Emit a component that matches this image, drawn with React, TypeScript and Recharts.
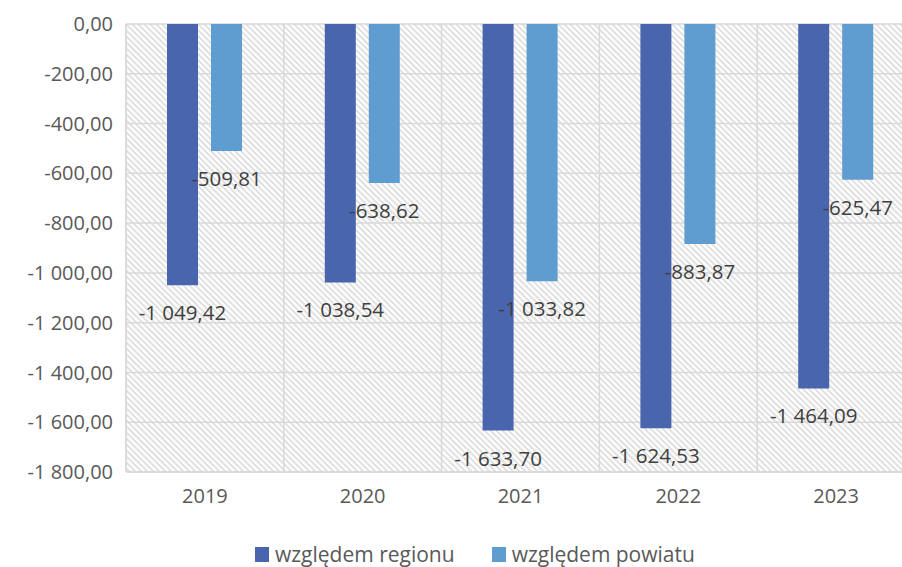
import { BarChart, Bar, XAxis, YAxis, CartesianGrid, LabelList } from "recharts";

const years = ["2019", "2020", "2021", "2022", "2023"];
const regionValues = [-1049.42, -1038.54, -1633.7, -1624.53, -1464.09];
const powiatValues = [-509.81, -638.62, -1033.82, -883.87, -625.47];
const yTicks = [0, -200, -400, -600, -800, -1000, -1200, -1400, -1600, -1800];
const seriesNames = ["względem regionu", "względem powiatu"];

const DARK = "#4865AD";
const LIGHT = "#5F9DD1";
const FONT = "'Open Sans', sans-serif";
const FS = 20;

function formatPl(v: number): string {
  const neg = v < 0;
  const [intPart, dec] = Math.abs(v).toFixed(2).split(".");
  const grouped = intPart.replace(/\B(?=(\d{3})+(?!\d))/g, " ");
  return `${neg ? "-" : ""}${grouped},${dec}`;
}

const chartData = years.map((year, i) => ({
  year,
  region: regionValues[i],
  powiat: powiatValues[i],
}));

/* eslint-disable @typescript-eslint/no-explicit-any */
function renderValueLabel(props: any) {
  const { x, y, width, height, value } = props;
  const bottom = Math.max(y, y + height);
  return (
    <text
      x={x + width / 2}
      y={bottom + 27}
      textAnchor="middle"
      dominantBaseline="central"
      fill="#404040"
      fontSize={20.5}
      fontFamily={FONT}
    >
      {formatPl(value)}
    </text>
  );
}

function categoryLines(props: any) {
  const { offset } = props;
  const step = offset.width / years.length;
  return years.map((_, i) => offset.left + step * i).concat(offset.left + offset.width);
}
/* eslint-enable @typescript-eslint/no-explicit-any */

export default function App() {
  return (
    <div
      style={{
        position: "absolute",
        left: 0,
        top: 0,
        width: 902,
        height: 567,
        overflow: "hidden",
        background: "#fff",
        fontFamily: FONT,
      }}
    >
      <BarChart
        width={916}
        height={567}
        data={chartData}
        margin={{ top: 24, right: 1, left: 0, bottom: 0 }}
        barGap={13}
        barSize={31}
      >
        <defs>
          <pattern id="hatch" patternUnits="userSpaceOnUse" width={6} height={6}>
            <rect width={6} height={6} fill="#ffffff" />
            <path d="M0,0 L6,6 M-1,5 L1,7 M5,-1 L7,1" stroke="#e2e2e2" strokeWidth={2} />
          </pattern>
        </defs>
        <CartesianGrid
          fill="url(#hatch)"
          fillOpacity={1}
          stroke="#d9d9d9"
          strokeWidth={1.5}
          verticalCoordinatesGenerator={categoryLines}
        />
        <XAxis
          dataKey="year"
          height={95}
          axisLine={{ stroke: "#d9d9d9", strokeWidth: 1.5 }}
          tickLine={false}
          tickSize={0}
          tickMargin={17}
          tick={{ fill: "#595959", fontSize: FS, fontFamily: FONT }}
        />
        <YAxis
          width={126}
          domain={[-1800, 0]}
          ticks={yTicks}
          interval={0}
          axisLine={{ stroke: "#d9d9d9", strokeWidth: 1.5 }}
          tickLine={false}
          tickSize={0}
          tickMargin={13}
          tickFormatter={(v: number) => formatPl(v)}
          tick={{ fill: "#595959", fontSize: FS, fontFamily: FONT }}
        />
        <Bar dataKey="region" name={seriesNames[0]} fill={DARK} isAnimationActive={false}>
          <LabelList dataKey="region" content={renderValueLabel} />
        </Bar>
        <Bar dataKey="powiat" name={seriesNames[1]} fill={LIGHT} isAnimationActive={false}>
          <LabelList dataKey="powiat" content={renderValueLabel} />
        </Bar>
      </BarChart>
      <div
        style={{
          position: "absolute",
          left: 255,
          top: 543,
          display: "flex",
          alignItems: "center",
          gap: 37,
          fontSize: 21,
          lineHeight: "23px",
          color: "#595959",
          whiteSpace: "nowrap",
        }}
      >
        {[DARK, LIGHT].map((c, i) => (
          <div key={i} style={{ display: "flex", alignItems: "center", gap: 6 }}>
            <span style={{ width: 14, height: 15, background: c, display: "inline-block" }} />
            <span>{seriesNames[i]}</span>
          </div>
        ))}
      </div>
    </div>
  );
}
